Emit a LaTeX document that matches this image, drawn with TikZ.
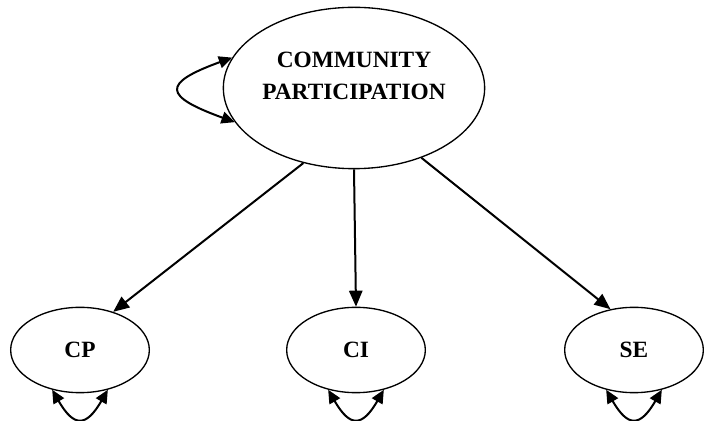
\documentclass[tikz,border=0pt]{standalone}
\usepackage{fontspec}
\setmainfont{Liberation Serif}
\usetikzlibrary{shapes.geometric, arrows.meta}

\begin{document}
\begin{tikzpicture}[x=0.75pt, y=0.75pt]
				\tikzstyle{every node}=[inner sep=1pt, align=center, font=\fontsize{17.5}{24}\selectfont\bfseries]
				\tikzstyle{latent}=[ellipse, draw, line width=1pt, minimum width=104pt, minimum height=64pt]
				\tikzstyle{path}=[-{Triangle[length=12pt, width=10pt]}, line width=1.5pt]
				\tikzstyle{cov}=[{Triangle[length=10pt, width=9pt]}-{Triangle[length=10pt, width=9pt]}, line width=1.5pt]
				\useasboundingbox (0, 0) rectangle (704, 421);
				\node[latent, minimum width=196pt, minimum height=121pt] (P) at (354, 333) {};
				\node (Ptext) at (354, 345) {COMMUNITY\\PARTICIPATION};
				\node[latent] (CP) at (80, 71) {CP};
				\node[latent] (CI) at (356, 71) {CI};
				\node[latent] (SE) at (634, 71) {SE};
				\draw [path] (P.236) -- (CP.49);
				\draw [path] (P.south) -- (CI.north);
				\draw [path] (P.314) -- (SE.120);
				\draw [cov] (P.166) to[out=200, in=160, looseness=3] (P.196);
				\draw [cov] (CP.235) to[out=-60, in=-120, looseness=2] (CP.305);
				\draw [cov] (CI.235) to[out=-60, in=-120, looseness=2] (CI.305);
				\draw [cov] (SE.235) to[out=-60, in=-120, looseness=2] (SE.305);
		\end{tikzpicture}
\end{document}
